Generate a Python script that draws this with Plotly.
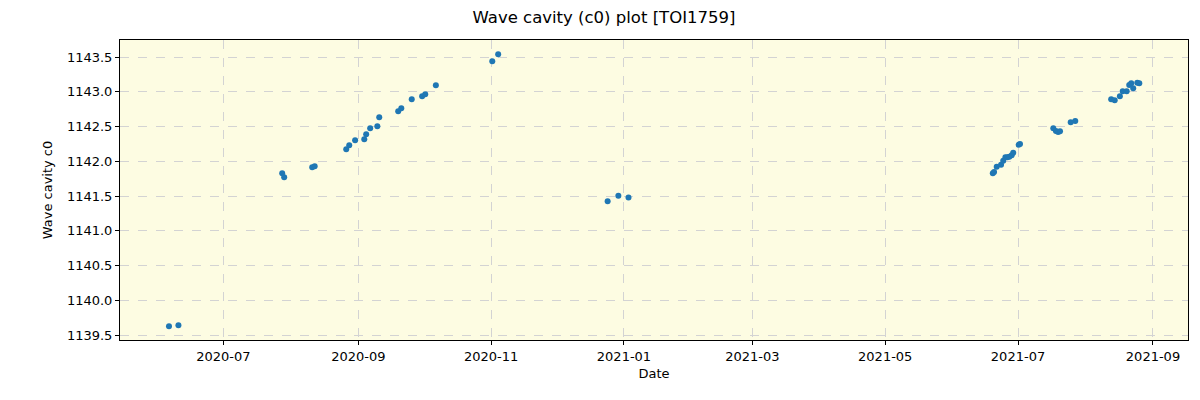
import plotly.graph_objects as go

dates = [
    "2020-06-06 00:00", "2020-06-10 08:00",
    "2020-07-28 00:00", "2020-07-28 22:00", "2020-08-10 19:00", "2020-08-11 22:00",
    "2020-08-26 10:00", "2020-08-27 19:00", "2020-08-30 12:00", "2020-09-03 17:00",
    "2020-09-04 14:00", "2020-09-06 10:00", "2020-09-09 17:00", "2020-09-10 14:00",
    "2020-09-19 07:00", "2020-09-20 17:00", "2020-09-25 12:00", "2020-09-30 07:00",
    "2020-10-01 17:00", "2020-10-06 14:00", "2020-11-01 12:00", "2020-11-04 05:00",
    "2020-12-24 12:00", "2020-12-29 10:00", "2021-01-03 02:00",
    "2021-06-19 10:00", "2021-06-20 00:00", "2021-06-21 05:00", "2021-06-23 05:00",
    "2021-06-24 05:00", "2021-06-25 05:00", "2021-06-26 02:00", "2021-06-27 00:00",
    "2021-06-28 02:00", "2021-06-28 19:00", "2021-07-01 07:00", "2021-07-01 22:00",
    "2021-07-17 05:00", "2021-07-18 10:00", "2021-07-19 10:00", "2021-07-20 07:00",
    "2021-07-25 05:00", "2021-07-27 07:00", "2021-08-12 19:00", "2021-08-14 10:00",
    "2021-08-16 19:00", "2021-08-18 02:00", "2021-08-19 22:00", "2021-08-21 02:00",
    "2021-08-22 00:00", "2021-08-22 22:00", "2021-08-24 19:00", "2021-08-25 17:00",
]
c0 = [
    1139.625, 1139.640,
    1141.827, 1141.769, 1141.913, 1141.927,
    1142.172, 1142.229, 1142.301, 1142.316,
    1142.388, 1142.474, 1142.503, 1142.632,
    1142.719, 1142.762, 1142.891, 1142.935,
    1142.963, 1143.093, 1143.438, 1143.539,
    1141.425, 1141.505, 1141.480,
    1141.827, 1141.845, 1141.922, 1141.950,
    1142.008, 1142.057, 1142.057, 1142.065,
    1142.086, 1142.123, 1142.238, 1142.248,
    1142.474, 1142.435, 1142.421, 1142.431,
    1142.560, 1142.579, 1142.891, 1142.877,
    1142.935, 1143.006, 1143.006, 1143.097,
    1143.122, 1143.050, 1143.130, 1143.122,
]
y_ticks = [1139.5, 1140.0, 1140.5, 1141.0, 1141.5, 1142.0, 1142.5, 1143.0, 1143.5]
x_ticks = ["2020-07-01", "2020-09-01", "2020-11-01", "2021-01-01",
           "2021-03-01", "2021-05-01", "2021-07-01", "2021-09-01"]
x_tick_labels = ["2020-07", "2020-09", "2020-11", "2021-01",
                 "2021-03", "2021-05", "2021-07", "2021-09"]

fig = go.Figure(go.Scatter(
    x=dates, y=c0, mode="markers",
    marker=dict(color="#1f77b4", size=6),
))

axis_common = dict(
    showline=True, linecolor="black", linewidth=1, mirror=True,
    ticks="outside", ticklen=4, tickcolor="black",
    showgrid=True, gridcolor="#d3d3d3", griddash="dash", gridwidth=1,
    zeroline=False,
    tickfont=dict(family="DejaVu Sans", size=13, color="black"),
)

# page body has an 8px margin; figure is sized so the plot lands where the reference has it
fig.update_layout(
    width=1192, height=392,
    margin=dict(l=112, r=12, t=32, b=60),
    paper_bgcolor="white", plot_bgcolor="#FDFCE2",
    showlegend=False,
    title=dict(text="Wave cavity (c0) plot [TOI1759]", x=0.5, xanchor="center",
               y=0.976, yanchor="middle",
               font=dict(family="DejaVu Sans", size=16.5, color="black")),
    font=dict(family="DejaVu Sans", color="black"),
)
fig.update_xaxes(
    **axis_common,
    type="date",
    range=["2020-05-14 12:00", "2021-09-17 02:00"],
    tickvals=x_ticks, ticktext=x_tick_labels,
    title=dict(text="Date", font=dict(family="DejaVu Sans", size=13), standoff=6),
)
fig.update_yaxes(
    **axis_common,
    range=[1139.428, 1143.745],
    tickvals=y_ticks, ticktext=[f"{v:.1f}" for v in y_ticks],
    title=dict(text="Wave cavity c0", font=dict(family="DejaVu Sans", size=13), standoff=11),
)

fig.write_html("out.html")
